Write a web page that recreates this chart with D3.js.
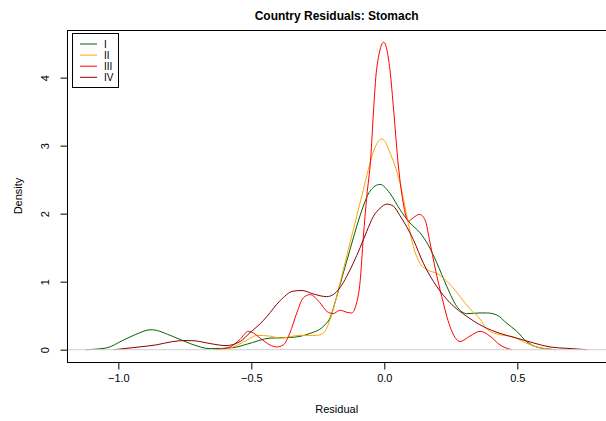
<!DOCTYPE html>
<html>
<head>
<meta charset="utf-8">
<script src="https://cdn.jsdelivr.net/npm/d3@7"></script>
<style>
  body { margin: 0; background: #fff; }
  svg { display: block; font-family: "Liberation Sans", Arial, Helvetica, sans-serif; }
</style>
</head>
<body>
<svg id="chart" width="606" height="421"></svg>
<script>
// density curves (x = residual, y = density)
var seriesNames = ["I", "II", "III", "IV"];
var seriesColors = ["#006400", "#FFA500", "#FF0000", "#8B0000"];

var xI = [-1.122, -1.046, -0.983, -0.937, -0.877, -0.795, -0.730, -0.655, -0.569, -0.517, -0.430, -0.355, -0.317, -0.279, -0.230, -0.204, -0.179, -0.154, -0.129, -0.104, -0.079, -0.054, -0.016, 0.021, 0.059, 0.097, 0.134, 0.165, 0.197, 0.235, 0.272, 0.310, 0.360, 0.385, 0.423, 0.460, 0.498, 0.535, 0.573, 0.645];
var yI = [0, 0.025, 0.137, 0.22, 0.294, 0.195, 0.09, 0.015, 0.03, 0.08, 0.17, 0.18, 0.196, 0.24, 0.34, 0.47, 0.78, 1.13, 1.47, 1.81, 2.11, 2.33, 2.43, 2.30, 2.06, 1.86, 1.72, 1.54, 1.28, 0.93, 0.64, 0.53, 0.54, 0.54, 0.51, 0.39, 0.27, 0.12, 0.04, 0];

var xII = [-0.644, -0.580, -0.517, -0.479, -0.430, -0.392, -0.317, -0.254, -0.229, -0.204, -0.179, -0.154, -0.129, -0.104, -0.079, -0.060, -0.046, -0.010, 0.029, 0.059, 0.084, 0.109, 0.134, 0.164, 0.198, 0.247, 0.285, 0.322, 0.360, 0.386, 0.435, 0.484, 0.521, 0.574, 0.645];
var yII = [0, 0.025, 0.14, 0.21, 0.20, 0.17, 0.21, 0.21, 0.245, 0.44, 0.78, 1.18, 1.57, 1.96, 2.35, 2.65, 2.85, 3.10, 2.82, 2.45, 1.98, 1.52, 1.27, 1.17, 1.12, 0.96, 0.78, 0.60, 0.45, 0.30, 0.22, 0.19, 0.12, 0.04, 0];

var xIII = [-0.630, -0.580, -0.543, -0.511, -0.492, -0.467, -0.430, -0.405, -0.380, -0.355, -0.329, -0.305, -0.279, -0.242, -0.215, -0.192, -0.167, -0.141, -0.123, -0.104, -0.091, -0.079, -0.066, -0.051, -0.041, -0.029, -0.002, 0.021, 0.036, 0.050, 0.071, 0.090, 0.109, 0.132, 0.153, 0.172, 0.191, 0.216, 0.247, 0.285, 0.322, 0.360, 0.397, 0.435, 0.479];
var yIII = [0, 0.04, 0.15, 0.27, 0.245, 0.17, 0.07, 0.04, 0.07, 0.245, 0.54, 0.76, 0.81, 0.69, 0.56, 0.53, 0.58, 0.55, 0.54, 0.69, 1.0, 1.65, 2.25, 2.82, 3.48, 4.12, 4.52, 4.12, 3.48, 2.82, 2.16, 1.89, 1.94, 1.99, 1.91, 1.57, 1.20, 0.78, 0.34, 0.12, 0.20, 0.27, 0.20, 0.07, 0];

var xIV = [-1.016, -0.922, -0.858, -0.795, -0.745, -0.712, -0.655, -0.595, -0.542, -0.505, -0.467, -0.441, -0.392, -0.343, -0.309, -0.267, -0.217, -0.192, -0.167, -0.141, -0.117, -0.091, -0.066, -0.041, -0.016, 0.010, 0.034, 0.059, 0.109, 0.147, 0.197, 0.247, 0.310, 0.372, 0.435, 0.498, 0.560, 0.623, 0.686, 0.762];
var yIV = [0, 0.04, 0.07, 0.12, 0.135, 0.13, 0.09, 0.06, 0.12, 0.25, 0.38, 0.49, 0.72, 0.86, 0.87, 0.82, 0.78, 0.81, 0.91, 1.08, 1.27, 1.50, 1.74, 1.96, 2.08, 2.14, 2.11, 1.97, 1.62, 1.27, 0.93, 0.69, 0.49, 0.34, 0.24, 0.17, 0.10, 0.04, 0.02, 0];

var xTicks = [-1.0, -0.5, 0.0, 0.5];
var yTicks = [0, 1, 2, 3, 4];

var seriesX = [xI, xII, xIII, xIV];
var seriesY = [yI, yII, yIII, yIV];

var svg = d3.select("#chart");

// plot region in user coordinates (R style 4% extension)
var x = d3.scaleLinear().domain([-1.193, 0.835]).range([67, 606.4]);
var y = d3.scaleLinear().domain([-0.181, 4.70]).range([362, 30]);

var plotLeft = x.range()[0], plotRight = x.range()[1];
var plotTop = y.range()[1], plotBottom = y.range()[0];

var line = d3.line()
    .x(function(d) { return x(d[0]); })
    .y(function(d) { return y(d[1]); })
    .curve(d3.curveMonotoneX);

seriesX.forEach(function(xs, i) {
  var pts = xs.map(function(v, j) { return [v, seriesY[i][j]]; });
  svg.append("path")
      .attr("d", line(pts))
      .attr("fill", "none")
      .attr("stroke", seriesColors[i])
      .attr("stroke-width", 1);
});

// abline(h = 0, col = "gray")
svg.append("line")
    .attr("x1", plotLeft).attr("x2", plotRight)
    .attr("y1", y(0)).attr("y2", y(0))
    .attr("stroke", "#cfcfcf")
    .attr("stroke-width", 1);

// box
svg.append("rect")
    .attr("x", plotLeft + 0.5).attr("y", plotTop + 0.5)
    .attr("width", plotRight - plotLeft).attr("height", plotBottom - plotTop)
    .attr("fill", "none")
    .attr("stroke", "#000")
    .attr("stroke-width", 1);

// x axis
var gx = svg.append("g").attr("transform", "translate(0," + (plotBottom + 0.5) + ")");
gx.call(d3.axisBottom(x).tickValues(xTicks).tickSize(7).tickPadding(5)
    .tickFormat(function(d) { return d3.format(".1f")(d).replace("-", "\u2212"); }));
gx.select(".domain").remove();
gx.selectAll(".tick line").attr("stroke", "#000");
gx.selectAll("text").attr("font-size", 11).attr("fill", "#000")
    .attr("font-family", "Liberation Sans, Arial, sans-serif");

// y axis with rotated labels
var gy = svg.append("g").attr("transform", "translate(" + (plotLeft + 0.5) + ",0)");
gy.call(d3.axisLeft(y).tickValues(yTicks).tickSize(7).tickFormat(d3.format("d")));
gy.select(".domain").remove();
gy.selectAll(".tick line").attr("stroke", "#000");
gy.selectAll(".tick text")
    .attr("font-size", 11).attr("fill", "#000")
    .attr("font-family", "Liberation Sans, Arial, sans-serif")
    .attr("x", null).attr("dy", null)
    .attr("text-anchor", "middle")
    .attr("transform", "translate(-19,0) rotate(-90)");

// titles
svg.append("text")
    .attr("x", (plotLeft + plotRight) / 2).attr("y", 20)
    .attr("text-anchor", "middle")
    .attr("font-size", 12).attr("font-weight", "bold")
    .text("Country Residuals: Stomach");

svg.append("text")
    .attr("x", (plotLeft + plotRight) / 2).attr("y", 413)
    .attr("text-anchor", "middle")
    .attr("font-size", 11)
    .text("Residual");

svg.append("text")
    .attr("transform", "translate(22," + ((plotTop + plotBottom) / 2) + ") rotate(-90)")
    .attr("text-anchor", "middle")
    .attr("font-size", 11)
    .text("Density");

// legend
var lg = svg.append("g");
lg.append("rect")
    .attr("x", 72.5).attr("y", 33.5)
    .attr("width", 46).attr("height", 54)
    .attr("fill", "#fff").attr("stroke", "#000").attr("stroke-width", 1);

seriesNames.forEach(function(name, i) {
  var yy = 44 + i * 11.1;
  lg.append("line")
      .attr("x1", 80).attr("x2", 97)
      .attr("y1", yy).attr("y2", yy)
      .attr("stroke", seriesColors[i]).attr("stroke-width", 1);
  lg.append("text")
      .attr("x", 104).attr("y", yy + 3.5)
      .attr("font-size", 10)
      .text(name);
});
</script>
</body>
</html>
